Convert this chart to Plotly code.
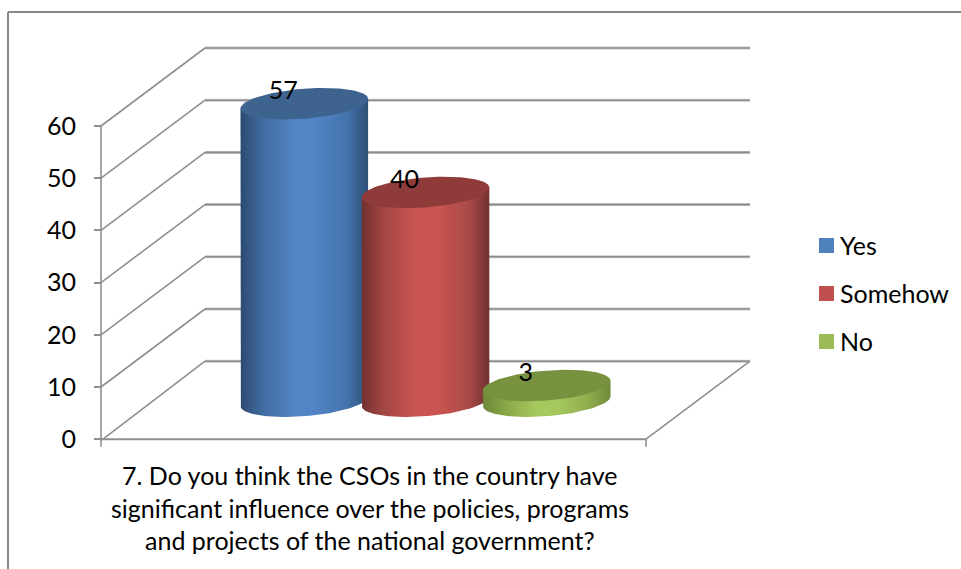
import numpy as np
import plotly.graph_objects as go

# Survey results
categories = ["Yes", "Somehow", "No"]
values = [57, 40, 3]
tick_values = [0, 10, 20, 30, 40, 50, 60]
caption_lines = [
    "7. Do you think the CSOs in the country have",
    "significant influence over the policies, programs",
    "and projects of the national government?",
]

# Series colours: legend swatch, lit cylinder wall stops, cylinder cap
swatch_colors = ["#4f81bd", "#c0504d", "#9bbb59"]
cap_colors = ["#3e638f", "#8f3b39", "#78913f"]
wall_stops = [
    ["#2c4a70", "#3f6a9e", "#5285c6", "#5285c6", "#4273ad", "#2f4e74"],
    ["#713030", "#a04543", "#cb5551", "#cb5551", "#a94a47", "#713130"],
    ["#6d8738", "#86a446", "#a6c95e", "#a6c95e", "#8dab4b", "#6f8a3a"],
]
wall_positions = [0, 0.16, 0.42, 0.58, 0.84, 1]

# Drawing scale: the x axis runs in page-width units, the y axis in survey values
WIDTH, HEIGHT = 961, 569
ZERO_Y = 439.2          # page row of the value 0
UNIT = 5.22             # page rows per value unit
AXIS_X = 101
DEPTH_X, DEPTH_V = 104, 78 / UNIT    # oblique offset from front to back wall
FLOOR_RIGHT = 646
BAR_FIRST, BAR_STEP = 304.3, 121.2
BAR_BASE = 38.0 / UNIT  # base of the cylinders, in value units above the front edge
RX, RY, TILT = 63.8, 15.0, 4.8
GRID = "#8f8f8f"
FONT = "Lato"
FONT_SIZE = 25


def cap_outline(cx, level, start, stop, n=60):
    t = np.linspace(start, stop, n)
    return cx + RX * np.cos(t), level + (TILT * np.cos(t) + RY * np.sin(t)) / UNIT


def line_trace(x, y, width=1.5, color=GRID):
    return go.Scatter(x=x, y=y, mode="lines", line=dict(color=color, width=width),
                      hoverinfo="skip", showlegend=False)


fig = go.Figure()

# Outer chart border, open towards the right and bottom
top_v = ZERO_Y / UNIT
frame_top = (ZERO_Y - 12) / UNIT
frame_bottom = (ZERO_Y - HEIGHT) / UNIT
fig.add_trace(line_trace([8, 8, None, 8, WIDTH], [frame_bottom, frame_top, None, frame_top, frame_top], 2, "#878787"))

# Side wall diagonals and back wall gridlines
wall_x, wall_y, back_x, back_y = [], [], [], []
for v in tick_values:
    wall_x += [AXIS_X + (2 if v == 0 else 0), AXIS_X + DEPTH_X, None]
    wall_y += [v, v + DEPTH_V, None]
    back_x += [AXIS_X + DEPTH_X, FLOOR_RIGHT + DEPTH_X, None]
    back_y += [v + DEPTH_V, v + DEPTH_V, None]
fig.add_trace(line_trace(back_x, back_y, 3, "#c9c9c9"))
fig.add_trace(line_trace(back_x, back_y, 1.6, "#8d8d8d"))
fig.add_trace(line_trace(wall_x, wall_y, 1.6))

# Front floor edge, value axis and the stub at the floor's right corner
stub = -7.5 / UNIT
fig.add_trace(line_trace([AXIS_X, FLOOR_RIGHT], [0, 0], 2))
fig.add_trace(line_trace([AXIS_X, AXIS_X], [stub, max(tick_values)], 1.6))
fig.add_trace(line_trace([FLOOR_RIGHT, FLOOR_RIGHT, FLOOR_RIGHT + DEPTH_X],
                         [stub, 0, DEPTH_V], 1.6))

# Cylinders, back to front
for i, value in enumerate(values):
    cx = BAR_FIRST + i * BAR_STEP
    top = BAR_BASE + value
    left = cap_outline(cx, top, np.pi, np.pi, 1)
    right = cap_outline(cx, top, 0, 0, 1)
    bx, by = cap_outline(cx, BAR_BASE, np.pi, 2 * np.pi)
    fig.add_trace(go.Scatter(
        x=np.concatenate([left[0], bx, right[0]]),
        y=np.concatenate([left[1], by, right[1]]),
        mode="lines", line=dict(width=0), fill="toself",
        fillgradient=dict(type="horizontal",
                          colorscale=list(zip(wall_positions, wall_stops[i]))),
        hoverinfo="skip", showlegend=False,
    ))
    tx, ty = cap_outline(cx, top, 0, 2 * np.pi, 120)
    fig.add_trace(go.Scatter(x=tx, y=ty, mode="lines", line=dict(width=0),
                             fill="toself", fillcolor=cap_colors[i],
                             hoverinfo="skip", showlegend=False))

# Value labels sit left of each cap's centre
fig.add_trace(go.Scatter(
    x=[BAR_FIRST + i * BAR_STEP - 21 for i in range(len(values))],
    y=[BAR_BASE + v + 11 / UNIT for v in values],
    mode="text", text=[str(v) for v in values], textposition="middle center",
    textfont=dict(family=FONT, size=FONT_SIZE, color="#000000"),
    hoverinfo="skip", showlegend=False, cliponaxis=False,
))

# Legend column
legend_rows = [(ZERO_Y - 245.5 - i * 48) / UNIT for i in range(len(categories))]
fig.add_trace(go.Scatter(
    x=[826.5] * len(categories), y=legend_rows, mode="markers",
    marker=dict(symbol="square", size=15, color=swatch_colors, line=dict(width=0)),
    hoverinfo="skip", showlegend=False,
))
for name, row in zip(categories, legend_rows):
    fig.add_annotation(x=840, y=row, text=name, showarrow=False, xanchor="left",
                       yanchor="middle", xshift=-2, yshift=1,
                       font=dict(family=FONT, size=FONT_SIZE, color="#000000"))

# Category caption under the floor, one annotation per line for the wider leading
for line, row in zip(caption_lines, [475, 507.5, 540]):
    fig.add_annotation(x=369.5, y=(ZERO_Y - row) / UNIT, text=line, showarrow=False,
                       xanchor="center", yanchor="middle",
                       font=dict(family=FONT, size=FONT_SIZE, color="#000000"))

fig.update_layout(
    width=WIDTH, height=HEIGHT, margin=dict(l=0, r=0, t=0, b=0),
    paper_bgcolor="#ffffff", plot_bgcolor="#ffffff", showlegend=False,
    xaxis=dict(range=[0, WIDTH], visible=False, fixedrange=True),
    yaxis=dict(
        range=[(ZERO_Y - HEIGHT) / UNIT, top_v], anchor="free", position=AXIS_X / WIDTH,
        tickmode="array", tickvals=tick_values, ticks="outside", ticklen=7,
        tickwidth=1.6, tickcolor=GRID, showgrid=False, zeroline=False, showline=False,
        ticklabelstandoff=13, fixedrange=True,
        tickfont=dict(family=FONT, size=FONT_SIZE, color="#000000"),
    ),
)

fig.write_html("out.html")
